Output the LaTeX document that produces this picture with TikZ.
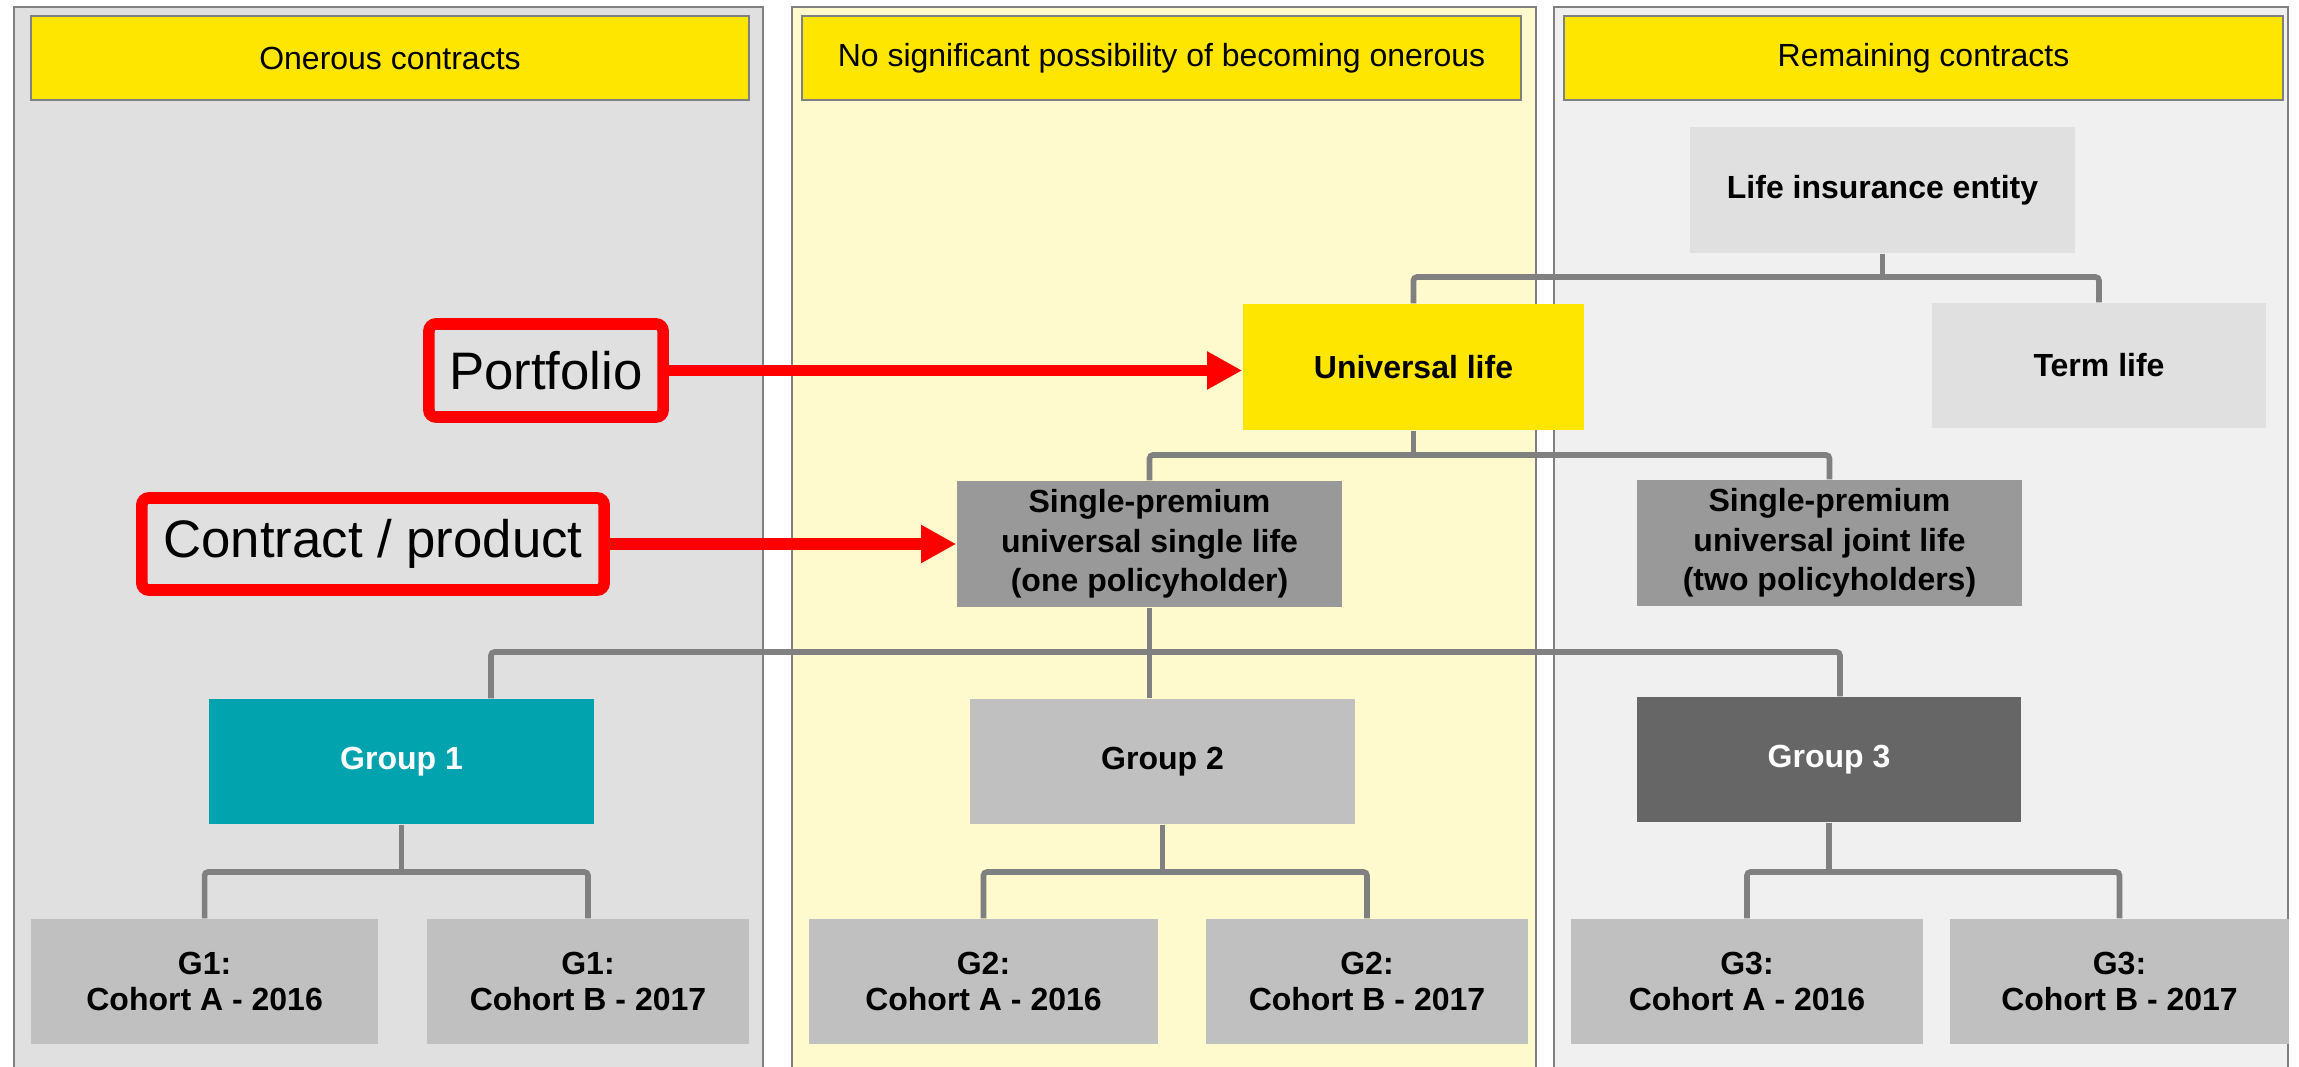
\documentclass[tikz,border=0pt]{standalone}
\usepackage{fontspec}
\setmainfont{Liberation Sans}
\usetikzlibrary{arrows.meta}
\definecolor{panelA}{HTML}{E0E0E0}
\definecolor{panelB}{HTML}{FFFACD}
\definecolor{panelC}{HTML}{F0F0F0}
\definecolor{hdryellow}{HTML}{FFE600}
\definecolor{rule}{HTML}{808080}
\definecolor{boxlight}{HTML}{E0E0E0}
\definecolor{boxmid}{HTML}{999999}
\definecolor{boxsilver}{HTML}{C0C0C0}
\definecolor{boxdark}{HTML}{666666}
\definecolor{teal}{HTML}{00A3AE}
\definecolor{callred}{HTML}{FF0000}
\pgfdeclarelayer{panels}
\pgfdeclarelayer{links}
\pgfsetlayers{panels,links,main}
\tikzset{
  sz/.style 2 args={minimum width=#1*0.28453pt, minimum height=#2*0.28453pt},
  panel/.style={draw=rule, line width=0.8pt},
  hdr/.style={fill=hdryellow, draw=rule, line width=0.6pt, inner sep=0pt,
    font=\fontsize{9.1}{11}\selectfont},
  blk/.style={inner sep=0pt, align=center,
    font=\fontsize{9.1}{11.2}\selectfont\bfseries},
  cohort/.style={blk, fill=boxsilver, font=\fontsize{9.1}{10}\selectfont\bfseries},
  conn/.style={draw=rule, line width=1.6pt, rounded corners=1pt},
  callout/.style={draw=callred, line width=3.3pt, rounded corners=2pt,
    inner sep=0pt, outer sep=0pt, font=\fontsize{15}{18}\selectfont},
  callarrow/.style={draw=callred, line width=3.4pt,
    -{Triangle[length=10pt, width=10.2pt]}},
}
\begin{document}
\begin{tikzpicture}[x=0.01cm, y=-0.01cm]
\useasboundingbox (0,0) rectangle (2299,1067);
\clip (0,0) rectangle (2299,1067);

% three column backgrounds
\begin{pgfonlayer}{panels}
  \fill[white] (0,0) rectangle (2299,1067);
  \draw[panel, fill=panelA] (14,7) rectangle (763,1090);
  \draw[panel, fill=panelB] (792,7) rectangle (1536,1090);
  \draw[panel, fill=panelC] (1554,7) rectangle (2288,1090);
\end{pgfonlayer}

% column headings
\node[hdr, sz={718}{84}] (h1) at (390,58) {Onerous contracts};
\node[hdr, sz={719}{84}] (h2) at (1161.5,58) {No significant possibility of becoming onerous};
\node[hdr, sz={719}{84}] (h3) at (1923.5,58) {Remaining contracts};

% hierarchy
\node[blk, fill=boxlight, sz={385}{126}] (life) at (1882.5,190) {Life insurance entity};
\node[blk, fill=hdryellow, sz={341}{126}] (univ) at (1413.5,367) {Universal life};
\node[blk, fill=boxlight, sz={334}{125}] (term) at (2099,365.5) {Term life};
\node[blk, fill=boxmid, sz={385}{126}] (single) at (1149.5,544)
  {Single-premium\\universal single life\\(one policyholder)};
\node[blk, fill=boxmid, sz={385}{126}] (joint) at (1829.5,543)
  {Single-premium\\universal joint life\\(two policyholders)};
\node[blk, fill=teal, text=white, sz={385}{125}] (g1) at (401.5,761.5) {Group 1};
\node[blk, fill=boxsilver, sz={385}{125}] (g2) at (1162.5,761.5) {Group 2};
\node[blk, fill=boxdark, text=white, sz={383}{125}] (g3) at (1829,759.5) {Group 3};

\node[cohort, sz={346}{125}] (c1a) at (204.6,981.5) {G1:\\Cohort A - 2016};
\node[cohort, sz={321}{125}] (c1b) at (588,981.5) {G1:\\Cohort B - 2017};
\node[cohort, sz={349}{125}] (c2a) at (983.5,981.5) {G2:\\Cohort A - 2016};
\node[cohort, sz={321}{125}] (c2b) at (1367,981.5) {G2:\\Cohort B - 2017};
\node[cohort, sz={352}{125}] (c3a) at (1747,981.5) {G3:\\Cohort A - 2016};
\node[cohort, sz={339}{125}] (c3b) at (2119.5,981.5) {G3:\\Cohort B - 2017};

% elbow levels
\coordinate (e1) at (0,277);
\coordinate (e2) at (0,455);
\coordinate (e3L) at (491,652);
\coordinate (e3R) at (1840,652);
\coordinate (e4) at (0,872);

\begin{pgfonlayer}{links}
  \draw[conn] (life.south) -- (life.south |- e1);
  \draw[conn] (univ.north) |- (term.north |- e1) -- (term.north);
  \draw[conn] (univ.south) -- (univ.south |- e2);
  \draw[conn] (single.north) |- (joint.north |- e2) -- (joint.north);
  \draw[conn] (single.south) -- (single.south |- g2.north);
  \draw[conn] (e3L |- g1.north) -- (e3L) -- (e3R) -- (e3R |- g3.north);
  \draw[conn] (g1.south) -- (g1.south |- e4);
  \draw[conn] (c1a.north) |- (c1b.north |- e4) -- (c1b.north);
  \draw[conn] (g2.south) -- (g2.south |- e4);
  \draw[conn] (c2a.north) |- (c2b.north |- e4) -- (c2b.north);
  \draw[conn] (g3.south) -- (g3.south |- e4);
  \draw[conn] (c3a.north) |- (c3b.north |- e4) -- (c3b.north);
\end{pgfonlayer}

% level call-outs
\node[callout, sz={234}{93}] (port) at (546,370.5) {Portfolio};
\node[callout, sz={462}{92}] (prod) at (373,544) {Contract / product};
\draw[callarrow] (port.east) -- (port.east -| univ.west);
\draw[callarrow] (prod.east) -- (prod.east -| single.west);
\end{tikzpicture}
\end{document}
